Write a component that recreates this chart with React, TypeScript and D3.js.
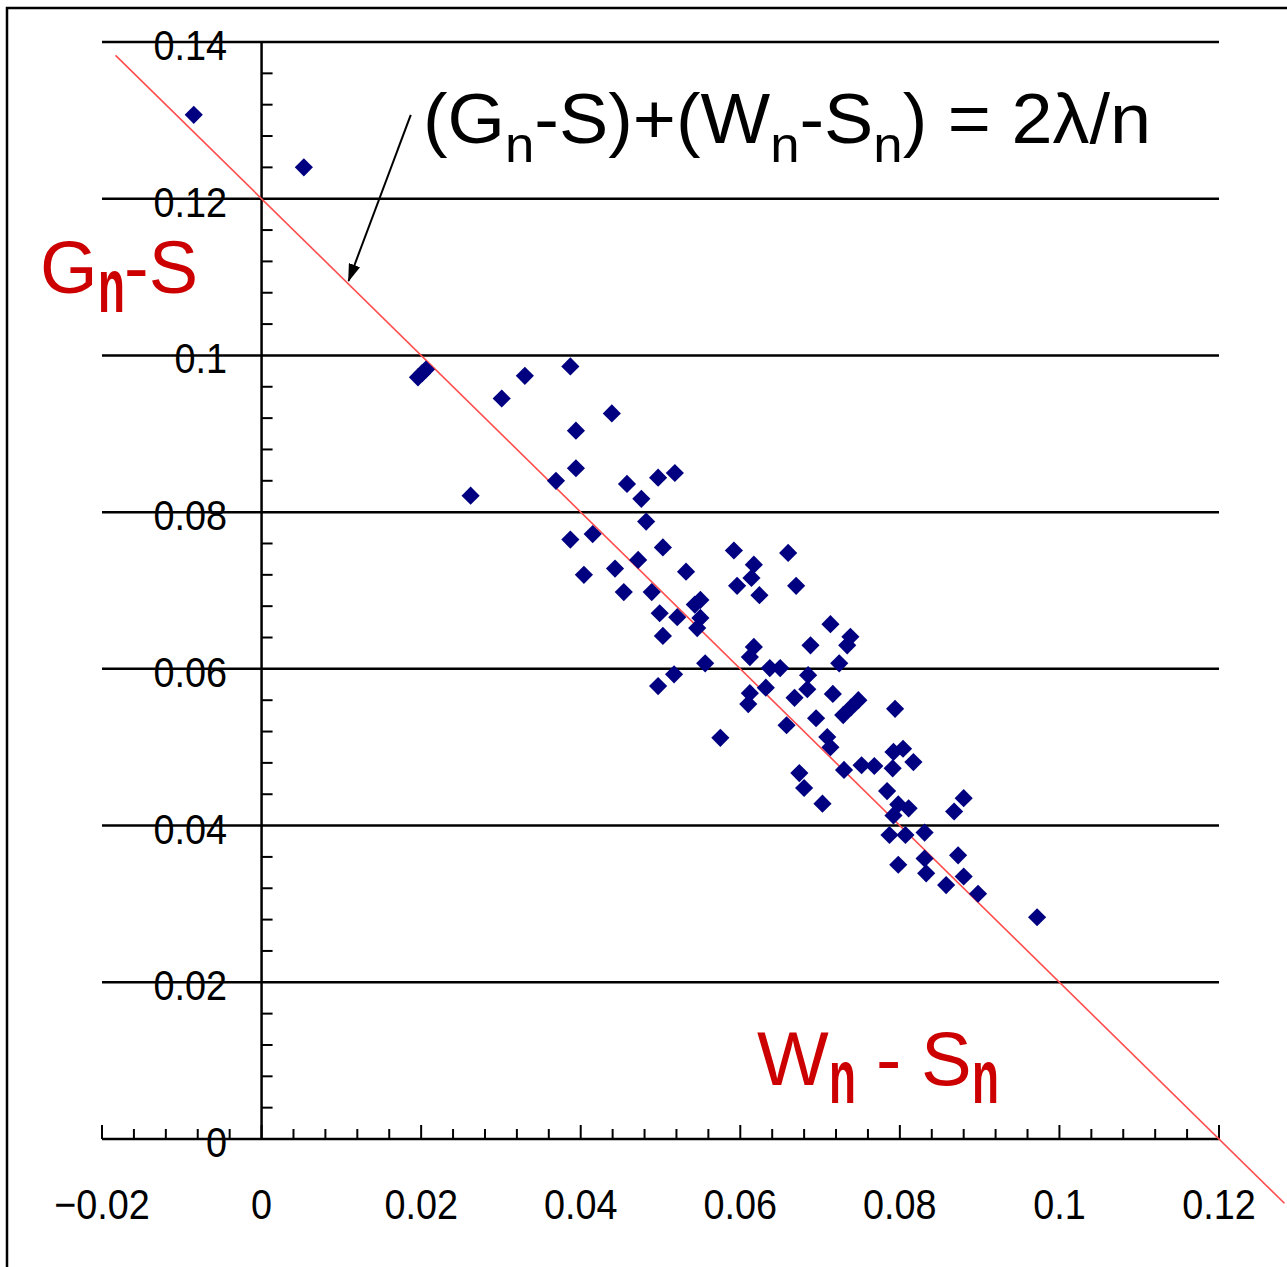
import React, { useEffect, useRef } from "react";
import { line, range, scaleLinear, select, symbol, symbolSquare } from "d3";

// Wn - Sn (horizontal) and Gn - S (vertical) for each sample
const xValues = [
  -0.0085, 0.0053, 0.0196, 0.0201, 0.0206, 0.0301, 0.033, 0.0387, 0.0439, 0.0394,
  0.0262, 0.0369, 0.0394, 0.0458, 0.0497, 0.0518, 0.0476, 0.0387, 0.0415, 0.0482,
  0.0404, 0.0443, 0.0472, 0.0503, 0.0454, 0.0489, 0.0532, 0.0499, 0.0521, 0.0543,
  0.055, 0.055, 0.0546, 0.0503, 0.0556, 0.0517, 0.0497, 0.0592, 0.0617, 0.0614,
  0.0596, 0.0624, 0.066, 0.067, 0.0713, 0.0688, 0.0738, 0.0734, 0.0724, 0.0617,
  0.0612, 0.0637, 0.065, 0.0685, 0.0684, 0.0716, 0.0668, 0.0632, 0.0612, 0.061,
  0.0695, 0.0729, 0.0739, 0.0748, 0.0794, 0.0658, 0.0575, 0.0709, 0.0713, 0.073,
  0.0752, 0.0768, 0.0791, 0.0792, 0.0804, 0.0817, 0.0674, 0.068, 0.0703, 0.0784,
  0.0798, 0.0811, 0.0792, 0.088, 0.0868, 0.0787, 0.0807, 0.0831, 0.0798, 0.0831,
  0.0833, 0.0873, 0.0858, 0.088, 0.0898, 0.0972,
];
const yValues = [
  0.1307, 0.124, 0.0972, 0.0977, 0.0982, 0.0945, 0.0974, 0.0986, 0.0926, 0.0904,
  0.0821, 0.084, 0.0856, 0.0836, 0.0844, 0.085, 0.0817, 0.0765, 0.0772, 0.0788,
  0.072, 0.0728, 0.0739, 0.0755, 0.0698, 0.0698, 0.0724, 0.0671, 0.0666, 0.0682,
  0.0688, 0.0665, 0.0652, 0.0642, 0.0607, 0.0593, 0.0578, 0.0751, 0.0733, 0.0716,
  0.0706, 0.0694, 0.0748, 0.0706, 0.0657, 0.063, 0.0641, 0.063, 0.0607, 0.0628,
  0.0615, 0.0601, 0.0601, 0.0592, 0.0574, 0.0568, 0.0563, 0.0576, 0.0569, 0.0555,
  0.0537, 0.0541, 0.0551, 0.056, 0.0549, 0.0528, 0.0512, 0.0513, 0.05, 0.0471,
  0.0477, 0.0476, 0.0473, 0.0494, 0.0498, 0.0481, 0.0467, 0.0448, 0.0428, 0.0444,
  0.0427, 0.0422, 0.0413, 0.0435, 0.0418, 0.0388, 0.0388, 0.0391, 0.035, 0.0358,
  0.0339, 0.0362, 0.0324, 0.0335, 0.0313, 0.0283,
];

const xTickLabels = ["\u22120.02", "0", "0.02", "0.04", "0.06", "0.08", "0.1", "0.12"];
const yTickLabels = ["0", "0.02", "0.04", "0.06", "0.08", "0.1", "0.12", "0.14"];

// (Gn-S)+(Wn-Sn) = 2λ/n  ->  y = 0.12 - x
const lineIntercept = 0.12;
const lineSlope = -1;
const lineExtent = [-0.0183, 0.1282];

// arrow from the formula to the red line (data coords)
const arrowFrom = [0.0187, 0.1307];
const arrowTo = [0.0109, 0.1095];

const App = () => {
  const svgRef = useRef<SVGSVGElement>(null);
  const width = 1287;
  const height = 1267;

  useEffect(() => {
    const svg = select(svgRef.current);
    svg.selectAll("*").remove();

    const xScale = scaleLinear().domain([-0.02, 0.12]).range([102, 1219]);
    const yScale = scaleLinear().domain([0, 0.14]).range([1139, 42]);
    const font = "'Liberation Sans', Arial, sans-serif";

    svg.append("rect").attr("width", width).attr("height", height).attr("fill", "#fff");

    // outer frame (runs off right / bottom edge)
    svg
      .append("rect")
      .attr("x", 7)
      .attr("y", 8)
      .attr("width", 1400)
      .attr("height", 1400)
      .attr("fill", "none")
      .attr("stroke", "#000")
      .attr("stroke-width", 2.5);

    const defs = svg.append("defs");
    defs
      .append("marker")
      .attr("id", "arrowHead")
      .attr("markerUnits", "userSpaceOnUse")
      .attr("markerWidth", 18)
      .attr("markerHeight", 12)
      .attr("refX", 17)
      .attr("refY", 6)
      .attr("orient", "auto")
      .append("path")
      .attr("d", "M0,0 L18,6 L0,12 Z")
      .attr("fill", "#000");

    // horizontal grid lines
    const yMajors = yTickLabels.map((d, i) => i * 0.02);
    svg
      .selectAll(".grid")
      .data(yMajors)
      .join("line")
      .attr("class", "grid")
      .attr("x1", xScale(-0.02))
      .attr("x2", xScale(0.12))
      .attr("y1", (d) => yScale(d))
      .attr("y2", (d) => yScale(d))
      .attr("stroke", "#000")
      .attr("stroke-width", 2.5);

    // y axis + minor ticks
    svg
      .append("line")
      .attr("x1", xScale(0))
      .attr("x2", xScale(0))
      .attr("y1", yScale(0))
      .attr("y2", yScale(0.14))
      .attr("stroke", "#000")
      .attr("stroke-width", 2.5);
    svg
      .selectAll(".ytick")
      .data(range(0, 36).filter((i) => i % 5 !== 0))
      .join("line")
      .attr("class", "ytick")
      .attr("x1", xScale(0))
      .attr("x2", xScale(0) + 11)
      .attr("y1", (i) => yScale(i * 0.004))
      .attr("y2", (i) => yScale(i * 0.004))
      .attr("stroke", "#000")
      .attr("stroke-width", 2);

    // x axis ticks (pointing up)
    svg
      .selectAll(".xtick")
      .data(range(0, 36))
      .join("line")
      .attr("class", "xtick")
      .attr("x1", (i) => xScale(-0.02 + i * 0.004))
      .attr("x2", (i) => xScale(-0.02 + i * 0.004))
      .attr("y1", yScale(0))
      .attr("y2", (i) => yScale(0) - (i % 5 === 0 ? 14 : 10))
      .attr("stroke", "#000")
      .attr("stroke-width", 2);

    // tick labels
    svg
      .selectAll(".ylabel")
      .data(yTickLabels)
      .join("text")
      .attr("class", "ylabel")
      .attr("transform", (d, i) => `translate(227,${yScale(i * 0.02) + 18}) scale(0.9,1)`)
      .attr("text-anchor", "end")
      .attr("font-family", font)
      .attr("font-size", 42)
      .attr("fill", "#000")
      .text((d) => d);

    svg
      .selectAll(".xlabel")
      .data(xTickLabels)
      .join("text")
      .attr("class", "xlabel")
      .attr("transform", (d, i) => `translate(${xScale(-0.02 + i * 0.02)},1219) scale(0.9,1)`)
      .attr("text-anchor", "middle")
      .attr("font-family", font)
      .attr("font-size", 42)
      .attr("fill", "#000")
      .text((d) => d);

    // red reference line
    const refLine = line<number>()
      .x((v) => xScale(v))
      .y((v) => yScale(lineIntercept + lineSlope * v));
    svg
      .append("path")
      .attr("d", refLine(lineExtent))
      .attr("fill", "none")
      .attr("stroke", "#ff4d4d")
      .attr("stroke-width", 1.6);

    // points
    const diamond = symbol().type(symbolSquare).size(165);
    svg
      .selectAll(".dot")
      .data(xValues.map((x, i) => [x, yValues[i]]))
      .join("path")
      .attr("class", "dot")
      .attr("d", diamond)
      .attr("transform", (d) => `translate(${xScale(d[0])},${yScale(d[1])}) rotate(45)`)
      .attr("fill", "#000080");

    // arrow
    svg
      .append("line")
      .attr("x1", xScale(arrowFrom[0]))
      .attr("y1", yScale(arrowFrom[1]))
      .attr("x2", xScale(arrowTo[0]))
      .attr("y2", yScale(arrowTo[1]))
      .attr("stroke", "#000")
      .attr("stroke-width", 2)
      .attr("marker-end", "url(#arrowHead)");

    // formula
    const formula = svg
      .append("text")
      .attr("x", 423)
      .attr("y", 143)
      .attr("font-family", font)
      .attr("font-size", 70)
      .attr("fill", "#000")
      .attr("textLength", 728)
      .attr("lengthAdjust", "spacingAndGlyphs");
    const parts: [string, boolean][] = [
      ["(G", false],
      ["n", true],
      ["-S)+(W", false],
      ["n", true],
      ["-S", false],
      ["n", true],
      [") = 2\u03bb/n", false],
    ];
    parts.forEach(([t, sub], i) => {
      const prevSub = i > 0 && parts[i - 1][1];
      formula
        .append("tspan")
        .attr("dy", sub ? 19 : prevSub ? -19 : 0)
        .attr("font-size", sub ? 50 : 70)
        .text(t);
    });

    // red axis titles (tall narrow subscripts)
    const redPieces = [
      { t: "G", x: 40, y: 293, fs: 74, sx: 1, bold: false },
      { t: "n", x: 98, y: 312, fs: 76, sx: 0.58, bold: true },
      { t: "-S", x: 124, y: 293, fs: 74, sx: 1, bold: false },
      { t: "W", x: 757, y: 1085, fs: 76, sx: 1, bold: false },
      { t: "n", x: 829, y: 1103, fs: 76, sx: 0.58, bold: true },
      { t: "-", x: 876, y: 1085, fs: 76, sx: 1, bold: false },
      { t: "S", x: 921, y: 1085, fs: 76, sx: 1, bold: false },
      { t: "n", x: 972, y: 1103, fs: 76, sx: 0.58, bold: true },
    ];
    svg
      .selectAll(".red")
      .data(redPieces)
      .join("text")
      .attr("class", "red")
      .attr("transform", (d) => `translate(${d.x},${d.y}) scale(${d.sx},1)`)
      .attr("font-family", font)
      .attr("font-size", (d) => d.fs)
      .attr("font-weight", (d) => (d.bold ? "bold" : "normal"))
      .attr("fill", "#cc0000")
      .text((d) => d.t);
  }, []);

  return (
    <div style={{ position: "absolute", left: 0, top: 0 }}>
      <svg ref={svgRef} width={width} height={height} />
    </div>
  );
};

export default App;
